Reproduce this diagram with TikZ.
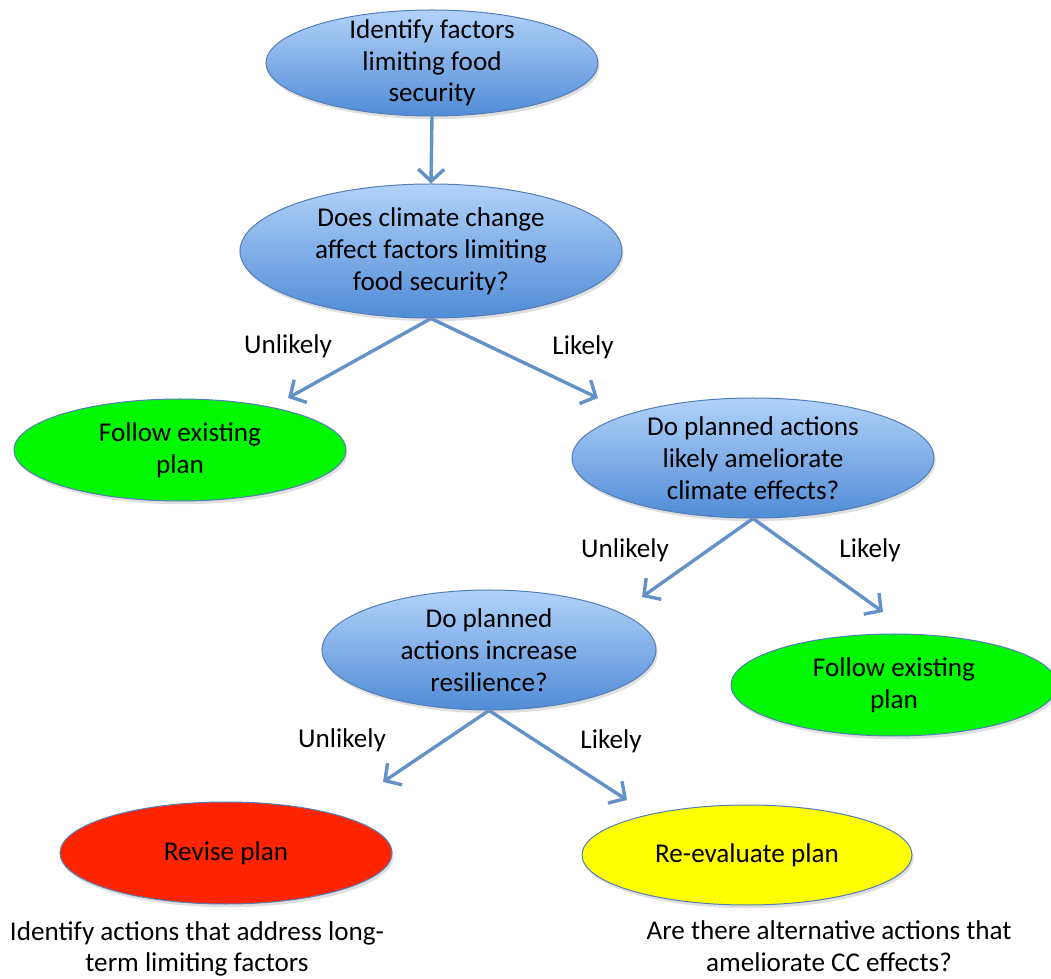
\documentclass[tikz,border=0pt]{standalone}
\usepackage{fontspec}
\setmainfont{Carlito}
\usetikzlibrary{shapes.geometric, arrows.meta, shadows}

\definecolor{qtop}{RGB}{178,210,250}
\definecolor{qbot}{RGB}{80,140,214}
\definecolor{rim}{RGB}{84,126,182}
\definecolor{flowblue}{RGB}{100,146,200}
\definecolor{okgreen}{RGB}{0,248,0}
\definecolor{stopred}{RGB}{255,36,0}
\definecolor{checkyellow}{RGB}{255,255,0}

\tikzset{
	bubble/.style={ellipse, draw=rim, line width=0.25mm, inner sep=0pt, align=center,
		drop shadow={opacity=0.25, shadow xshift=0.4mm, shadow yshift=-0.8mm}},
	question/.style={bubble, top color=qtop, bottom color=qbot, inner ysep=-3.5mm},
	keepplan/.style={bubble, fill=okgreen},
	flow/.style={draw=flowblue, line width=0.85mm, line cap=round,
		-{Straight Barb[length=3mm, width=6.5mm]}},
	answer/.style={inner sep=0pt},
	note/.style={inner sep=0pt, align=center}
}

\begin{document}
\begin{tikzpicture}[x=0.25mm, y=-0.25mm, font=\fontsize{19.3pt}{22.6pt}\selectfont]
		\clip (0,0) rectangle (1051,979);

		% questions
		\begin{scope}
			\node [question, minimum width=83mm, minimum height=26.5mm] (q0) at (432,63)
				{Identify factors\\limiting food\\security};
			\node [question, minimum width=95.5mm, minimum height=33.5mm] (q1) at (431,251)
				{Does climate change\\affect factors limiting\\food security?};
			\node [question, minimum width=90.5mm, minimum height=30mm] (q2) at (753,458)
				{Do planned actions\\likely ameliorate\\climate effects?};
			\node [question, minimum width=83.5mm, minimum height=30mm] (q3) at (489,650)
				{Do planned\\actions increase\\resilience?};
		\end{scope}

		% outcomes
		\begin{scope}
			\node [keepplan, minimum width=83mm, minimum height=25.5mm] (keep1) at (180,450)
				{Follow existing\\plan};
			\node [keepplan, minimum width=81.5mm, minimum height=25.5mm] (keep2) at (894,685)
				{Follow existing\\plan};
			\node [bubble, fill=stopred, minimum width=83mm, minimum height=25.5mm] (revise) at (226,853)
				{Revise plan};
			\node [bubble, fill=checkyellow, minimum width=82.5mm, minimum height=25mm] (reeval) at (747,855)
				{Re-evaluate plan};

			\node [note] (revisenote) at (197,949) {Identify actions that address long-\\term limiting factors};
			\node [note] (reevalnote) at (829,946) {Are there alternative actions that\\ameliorate CC effects?};
		\end{scope}

		% arrow tips
		\coordinate (t1) at (288,398);
		\coordinate (t2) at (598,398);
		\coordinate (t3) at (642,597);
		\coordinate (t4) at (883,612);
		\coordinate (t5) at (383,782);
		\coordinate (t6) at (627,800);

		\begin{scope}
			\draw [flow] (q0.south) -- (q1.north);
			\draw [flow] (q1.south) -- (t1);
			\draw [flow] (q1.south) -- (t2);
			\draw [flow] (q2.south) -- (t3);
			\draw [flow] (q2.south) -- (t4);
			\draw [flow] (q3.south) -- (t5);
			\draw [flow] (q3.south) -- (t6);
		\end{scope}

		\begin{scope}
			\node [answer] (no1) at (288,346) {Unlikely};
			\node [answer] (yes1) at (583,347) {Likely};
			\node [answer] (no2) at (625,550) {Unlikely};
			\node [answer] (yes2) at (870,550) {Likely};
			\node [answer] (no3) at (342,740) {Unlikely};
			\node [answer] (yes3) at (611,741) {Likely};
		\end{scope}
	\end{tikzpicture}
\end{document}
